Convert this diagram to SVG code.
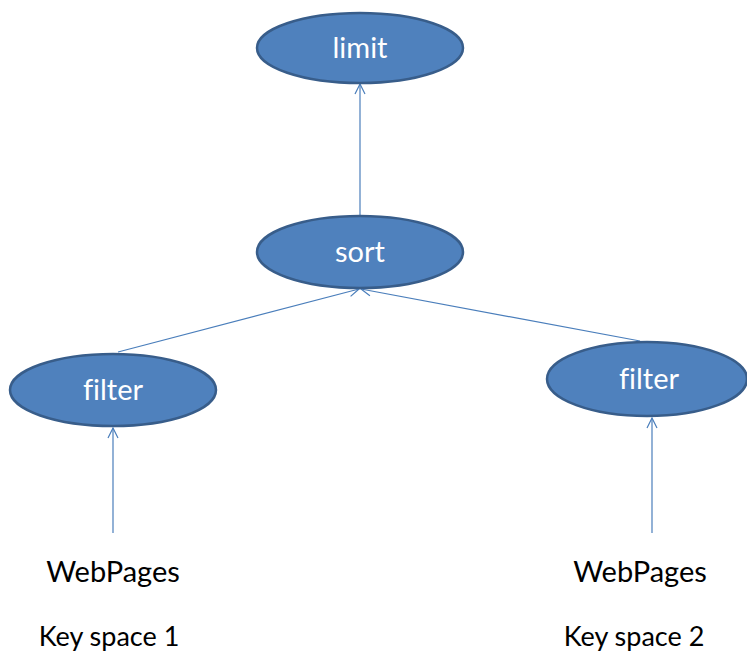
<svg xmlns="http://www.w3.org/2000/svg" width="747" height="653" viewBox="0 0 747 653">
<style>
text{font-variant-ligatures:none}
.node ellipse{fill:#4F81BD;stroke:#385D8A;stroke-width:2.5}
.node text{fill:#fff;font-family:Lato,"Open Sans","Liberation Sans",sans-serif;font-size:29px;text-anchor:middle}
.lbl{fill:#000;font-family:Lato,"Open Sans","Liberation Sans",sans-serif;text-anchor:middle}
.edge{stroke:#4A7EBB;stroke-width:1.2;fill:none;marker-end:url(#arr)}
</style>
<defs>
<marker id="arr" viewBox="0 0 12 12" refX="11" refY="6" markerWidth="12" markerHeight="12" markerUnits="userSpaceOnUse" orient="auto">
<path d="M1,1 L11,6 L1,11" fill="none" stroke="#4A7EBB" stroke-width="1.2"/>
</marker>
</defs>
<rect width="747" height="653" fill="#fff"/>
<g id="connectors">
<line class="edge" x1="360" y1="215" x2="360" y2="84"/>
<line class="edge" x1="118" y1="352" x2="359" y2="289"/>
<line class="edge" x1="640" y1="341" x2="361" y2="289"/>
<line class="edge" x1="113" y1="533" x2="113" y2="428"/>
<line class="edge" x1="652" y1="533" x2="652" y2="418"/>
</g>
<g id="limit" class="node"><ellipse cx="360" cy="48" rx="103" ry="35"/><text x="360" y="58">limit</text></g>
<g id="sort" class="node"><ellipse cx="360" cy="252" rx="103" ry="36"/><text x="360" y="262">sort</text></g>
<g id="filter1" class="node"><ellipse cx="113" cy="390" rx="103" ry="36"/><text x="113" y="400">filter</text></g>
<g id="filter2" class="node"><ellipse cx="647" cy="379" rx="100" ry="37"/><text x="649" y="389">filter</text></g>
<g id="src1"><text class="lbl" x="113" y="582" font-size="29">WebPages</text><text class="lbl" x="109" y="646" font-size="27">Key space 1</text></g>
<g id="src2"><text class="lbl" x="640" y="582" font-size="29">WebPages</text><text class="lbl" x="634" y="646" font-size="27">Key space 2</text></g>
</svg>
